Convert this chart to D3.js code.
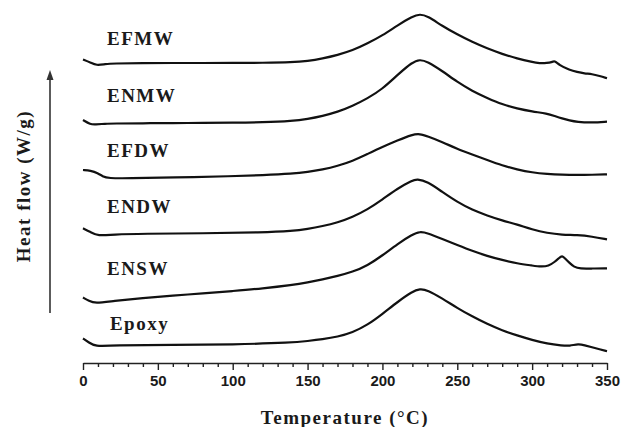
<!DOCTYPE html>
<html lang="en">
  <head>
    <meta charset="utf-8">
    <title>DSC</title>
    <script src="https://d3js.org/d3.v7.min.js"></script>
    <style>
      body { margin: 0; background: #fff; }
      .serif { font-family: "Liberation Serif", "Times New Roman", serif; font-weight: bold; }
    </style>
  </head>
  <body>
    <script>
// heat flow curves, [temperature °C, heat flow (arb. units, curves stacked)]
const efmw = [[0,30.35],[5,30.05],[9,29.75],[15,29.9],[20,29.95],[40,30],[60,30],[80,30],[100,30],[120,30.02],
  [140,30.07],[150,30.2],[160,30.45],[170,30.8],[180,31.25],[190,31.95],[200,32.75],[210,33.75],[220,34.65],
  [225,34.9],[230,34.7],[240,33.7],[250,32.85],[260,32.1],[270,31.45],[280,30.9],[290,30.45],[300,30.1],
  [305,29.97],[310,30],[313,30.07],[315,30.25],[318,29.8],[325,29.3],[330,29.1],[335,28.95],[340,28.9],
  [345,28.7],[350,28.47]]
const enmw = [[0,24.3],[5,23.85],[8,23.85],[15,23.93],[20,23.95],[40,23.97],[60,24],[80,24],[100,24.03],
  [120,24.07],[140,24.2],[150,24.4],[160,24.7],[170,25.1],[180,25.7],[190,26.45],[200,27.4],[210,28.8],
  [220,30.1],[225,30.35],[230,30.15],[240,29.2],[250,28.1],[260,27.2],[270,26.5],[280,25.85],[290,25.45],
  [300,25.15],[310,24.95],[315,24.7],[320,24.45],[325,24.25],[330,24.1],[340,24.03],[350,24.13]]
const efdw = [[0,19.3],[5,19.25],[10,19],[13,18.65],[17,18.47],[30,18.47],[60,18.55],[100,18.68],[120,18.78],
  [140,18.93],[150,19.1],[160,19.35],[170,19.7],[180,20.2],[190,20.9],[200,21.6],[210,22.25],[220,22.85],
  [225,22.92],[230,22.68],[240,22.1],[250,21.4],[260,20.85],[270,20.3],[280,19.75],[290,19.35],[300,19.05],
  [310,18.9],[320,18.82],[330,18.8],[340,18.82],[350,18.87]]
const endw = [[0,13.47],[5,13.1],[10,12.7],[20,12.85],[40,12.93],[80,12.97],[120,13.05],[140,13.2],[150,13.4],
  [160,13.68],[170,14.05],[180,14.6],[190,15.35],[200,16.35],[210,17.45],[220,18.25],[223,18.4],[230,18.15],
  [240,17.1],[250,16.1],[260,15.3],[270,14.75],[280,14.25],[290,13.85],[300,13.35],[310,13],[320,12.82],
  [330,12.8],[340,12.65],[350,12.37]]
const ensw = [[0,6.55],[4,6.2],[8,5.97],[20,6.2],[40,6.5],[60,6.75],[80,6.95],[100,7.2],[120,7.45],[140,7.8],
  [150,8.05],[160,8.35],[170,8.7],[180,9.1],[190,9.75],[200,10.75],[210,11.9],[220,12.85],[225,13.15],[230,13],
  [240,12.4],[250,11.8],[260,11.2],[270,10.7],[280,10.3],[290,9.95],[300,9.75],[306,9.62],[311,9.7],
  [315,10.1],[318,10.5],[320,10.75],[322,10.45],[325,10],[328,9.6],[332,9.42],[340,9.45],[350,9.47]]
const epoxy = [[0,2.45],[4,2.05],[8,1.65],[20,1.77],[60,1.8],[100,1.85],[140,2.03],[150,2.2],[160,2.38],
  [170,2.62],[180,3.05],[190,3.8],[200,4.9],[210,6.1],[220,7.15],[225,7.42],[230,7.3],[240,6.45],[250,5.5],
  [260,4.65],[270,3.9],[280,3.25],[290,2.75],[300,2.3],[310,1.93],[320,1.75],[325,1.7],[331,1.92],[335,1.77],
  [340,1.57],[345,1.37],[350,1.18]]

const names = ['EFMW', 'ENMW', 'EFDW', 'ENDW', 'ENSW', 'Epoxy']
const curves = [efmw, enmw, efdw, endw, ensw, epoxy]
const labelTemp = [16, 16, 16, 16, 16, 18]
const labelFlow = [31.8, 26.13, 20.6, 15.0, 8.8, 3.3]
const xTicks = d3.range(0, 351, 10)

const width = 622, height = 427

const svg = d3.select('body').append('svg')
  .attr('width', width)
  .attr('height', height)

const x = d3.scaleLinear().domain([0, 350]).range([83, 607])
const y = d3.scaleLinear().domain([0, 36.3]).range([363, 0])

const line = d3.line()
  .x(d => x(d[0]))
  .y(d => y(d[1]))
  .curve(d3.curveBasis)

svg.selectAll('path.curve')
  .data(curves)
  .join('path')
  .attr('class', 'curve')
  .attr('d', line)
  .attr('fill', 'none')
  .attr('stroke', '#111')
  .attr('stroke-width', 2.2)
  .attr('stroke-linejoin', 'round')

svg.selectAll('text.name')
  .data(names)
  .join('text')
  .attr('class', 'name serif')
  .attr('x', (d, i) => x(labelTemp[i]))
  .attr('y', (d, i) => y(labelFlow[i]))
  .attr('font-size', 19)
  .attr('letter-spacing', 1.5)
  .attr('fill', '#1a1a1a')
  .text(d => d)

// x axis
const xAxis = d3.axisBottom(x)
  .tickValues(xTicks)
  .tickSizeOuter(0)
  .tickFormat(d => d % 50 === 0 ? d : '')

const gx = svg.append('g')
  .attr('transform', `translate(0,${y(0)})`)
  .call(xAxis)

gx.select('.domain').attr('stroke', '#222').attr('stroke-width', 1.6)
gx.selectAll('.tick line')
  .attr('stroke', '#222')
  .attr('stroke-width', 1.4)
  .attr('y2', d => d % 50 === 0 ? 7 : 4)
gx.selectAll('.tick text')
  .attr('y', 12)
  .attr('fill', '#1a1a1a')
  .style('font-family', '"Liberation Sans", Arial, sans-serif')
  .style('font-weight', 'bold')
  .style('font-size', '15px')

svg.append('text')
  .attr('class', 'serif')
  .attr('x', (x.range()[0] + x.range()[1]) / 2)
  .attr('y', 424)
  .attr('text-anchor', 'middle')
  .attr('font-size', 19)
  .attr('letter-spacing', 1.5)
  .attr('fill', '#1a1a1a')
  .text('Temperature (°C)')

// y arrow and label
svg.append('line')
  .attr('x1', 50).attr('x2', 50)
  .attr('y1', 313).attr('y2', 78)
  .attr('stroke', '#333')
  .attr('stroke-width', 1.6)

svg.append('path')
  .attr('d', 'M50,70 L46.5,80 L53.5,80 Z')
  .attr('fill', '#333')

svg.append('text')
  .attr('class', 'serif')
  .attr('transform', 'translate(30,186) rotate(-90)')
  .attr('text-anchor', 'middle')
  .attr('font-size', 19)
  .attr('letter-spacing', 1.5)
  .attr('fill', '#1a1a1a')
  .text('Heat flow (W/g)')
    </script>
  </body>
</html>
